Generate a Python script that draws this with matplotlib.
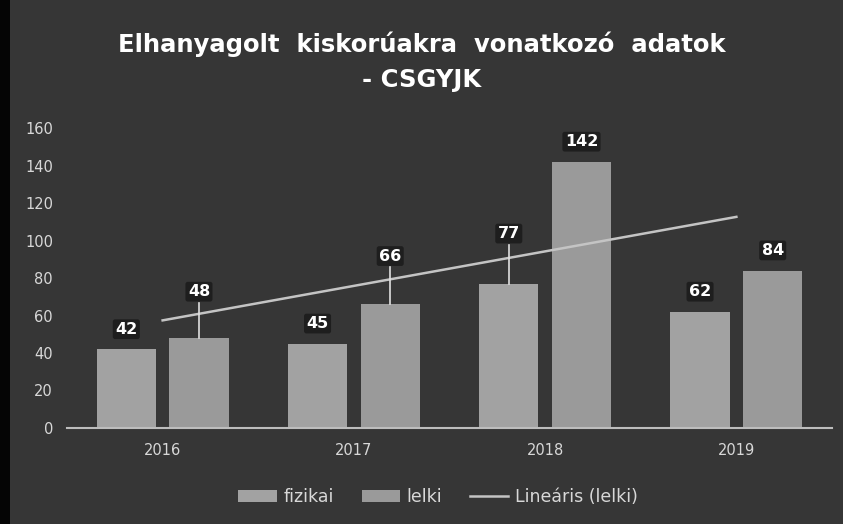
import numpy as np
import matplotlib
matplotlib.use("Agg")
import matplotlib.pyplot as plt
from matplotlib.patches import Patch, Rectangle
from matplotlib.lines import Line2D

years = ["2016", "2017", "2018", "2019"]
fizikai = [42, 45, 77, 62]
lelki = [48, 66, 142, 84]
y_ticks = [0, 20, 40, 60, 80, 100, 120, 140, 160]
title = "Elhanyagolt  kiskorúakra  vonatkozó  adatok\n- CSGYJK"
legend_labels = ["fizikai", "lelki", "Lineáris (lelki)"]

BG = "#363636"
BAR_F = "#a2a2a2"
BAR_L = "#9a9a9a"
TXT = "#d8d8d8"

fig = plt.figure(figsize=(8.43, 5.24), dpi=100)
fig.patch.set_facecolor(BG)
fig.add_artist(Rectangle((0, 0), 10 / 843, 1, transform=fig.transFigure,
                         facecolor="#050505", edgecolor="none"))

ax = fig.add_axes([67 / 843, 1 - 428 / 524, 765 / 843, 300 / 524])
ax.set_facecolor(BG)

x = np.arange(len(years))
w = 0.31
off = 0.19
ax.bar(x - off, fizikai, width=w, color=BAR_F, zorder=2)
ax.bar(x + off, lelki, width=w, color=BAR_L, zorder=2)

# linear trend of lelki
coef = np.polyfit(x, lelki, 1)
ax.plot([x[0], x[-1]], np.polyval(coef, [x[0], x[-1]]), color="#c4c4c4",
        lw=1.8, zorder=3)

ax.set_xlim(-0.5, 3.5)
ax.set_ylim(0, 160)
ax.set_yticks(y_ticks)
ax.set_xticks(x)
ax.set_xticklabels(years)
ax.tick_params(axis="both", length=0, colors=TXT, labelsize=10.5)
ax.tick_params(axis="x", pad=11)
ax.tick_params(axis="y", pad=10)
for s in ["top", "right", "left"]:
    ax.spines[s].set_visible(False)
ax.spines["bottom"].set_color("#bdbdbd")
ax.spines["bottom"].set_linewidth(1.5)

# data labels (some moved up with leader lines)
lift = {(1, 0): 14, (1, 1): 15, (0, 2): 16}
base = 10.7
for si, (vals, cx) in enumerate([(fizikai, x - off), (lelki, x + off)]):
    for i, v in enumerate(vals):
        extra = lift.get((si, i), 0)
        ly = v + base + extra
        if extra:
            ax.plot([cx[i], cx[i]], [v, ly - 6], color="#e0e0e0", lw=1.2, zorder=3)
        ax.text(cx[i], ly, str(v), ha="center", va="center", color="white",
                fontsize=11.5, fontweight="bold", zorder=4,
                bbox=dict(boxstyle="round,pad=0.15", fc="#1e1e1e", ec="none"))

fig.text(0.5, 0.882, title, ha="center", va="center", color="white",
         fontsize=17.5, fontweight="bold", linespacing=1.55)

handles = [Patch(facecolor=BAR_F, edgecolor="none"),
           Patch(facecolor=BAR_L, edgecolor="none"),
           Line2D([0], [0], color="#c4c4c4", lw=1.8)]
fig.legend(handles, legend_labels, loc="center", bbox_to_anchor=(0.52, 0.052),
           ncol=3, frameon=False, fontsize=12.5, labelcolor=TXT,
           handlelength=2.2, columnspacing=1.6, handletextpad=0.4)

fig.savefig("out.png", dpi=100, facecolor=fig.get_facecolor())
